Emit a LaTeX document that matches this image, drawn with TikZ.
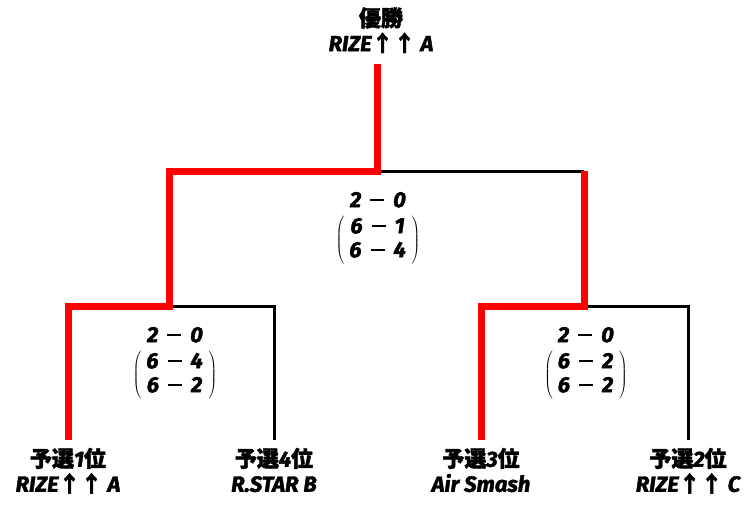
\documentclass[tikz,border=0pt]{standalone}
\usepackage{fontspec}
\setmainfont{Noto Sans CJK JP}
\newfontfamily\jp{Noto Sans CJK JP}[BoldFeatures={FakeBold=2}]
\newfontfamily\lat{Fira Sans}[BoldItalicFeatures={FakeBold=2}]
\newcommand\La[1]{{\lat\bfseries\itshape #1}}
\newcommand\Jp[1]{{\jp\bfseries #1}}
\newcommand\sdash{\hspace{9pt}\rule[6pt]{14pt}{2pt}\hspace{9pt}}
\newcommand\Sc[2]{\La{#1}\sdash\La{#2}}
\newcommand\Score[6]{\begin{tabular}{@{}c@{}}\Sc{#1}{#2}\\[0pt]$\delimitershortfall=2pt\left(\begin{tabular}{@{\hspace{5pt}}c@{\hspace{6pt}}}\Sc{#3}{#4}\\[-2pt]\Sc{#5}{#6}\end{tabular}\right)$\end{tabular}}
\tikzset{
  team/.style={align=center, inner sep=0pt, outer ysep=8pt, anchor=north, font=\fontsize{22}{25}\selectfont},
  score/.style={inner sep=0pt, font=\fontsize{22}{26}\selectfont},
  blk/.style={line width=3pt, black, line join=miter},
  win/.style={line width=7pt, red, line join=miter}
}
\begin{document}
\begin{tikzpicture}[x=1pt,y=-1pt]
\useasboundingbox (0,0) rectangle (754,504);
% teams
\node[team] (t1) at (68,440) {\Jp{予選}\La{1}\Jp{位}\\\La{RIZE}\Jp{↑↑}\La{ A}};
\node[team] (t4) at (274,440) {\Jp{予選}\La{4}\Jp{位}\\\La{R.STAR B}};
\node[team] (t3) at (481,440) {\Jp{予選}\La{3}\Jp{位}\\\La{Air Smash}};
\node[team] (t2) at (688,440) {\Jp{予選}\La{2}\Jp{位}\\\La{RIZE}\Jp{↑↑}\La{ C}};
\node[team, anchor=south, outer ysep=11pt] (champ) at (381,64) {\Jp{優勝}\\\La{RIZE}\Jp{↑↑}\La{ A}};
% junctions
\coordinate (j1) at (169,306);
\coordinate (j2) at (584,306);
\coordinate (jf) at (377,171);
% scores
\node[score] (s1) at (175,362) {\Score{2}{0}{6}{4}{6}{2}};
\node[score] (s2) at (586,362) {\Score{2}{0}{6}{2}{6}{2}};
\node[score] (sf) at (378,227) {\Score{2}{0}{6}{1}{6}{4}};
% black lines
\draw[blk] (j1) -| (t4.north);
\draw[blk] (j2) -| (t2.north);
\draw[blk] (jf) -- (jf -| j2);
% red (winner) lines
\draw[win] (t1.north) |- (j1) |- (jf) -- (jf |- champ.south);
\draw[win] (t3.north) |- (j2) -- (j2 |- jf);
\end{tikzpicture}
\end{document}
